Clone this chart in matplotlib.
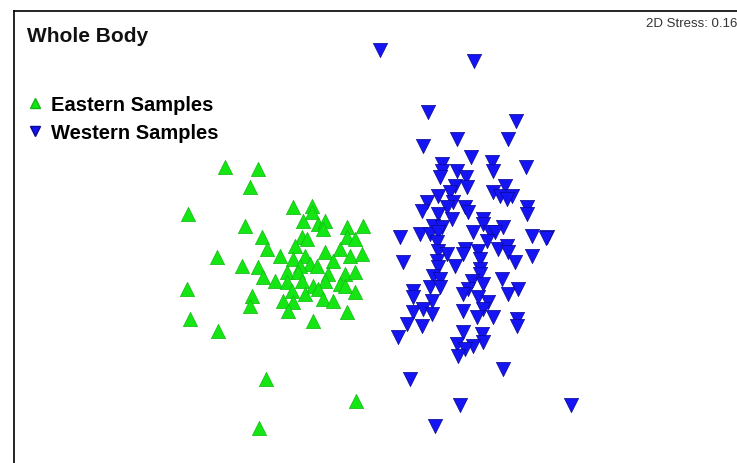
import matplotlib
matplotlib.use('Agg')
import matplotlib.pyplot as plt
from matplotlib.lines import Line2D

# nMDS ordination (screen units, y grows downwards)
east_x = [225, 258, 250, 188, 245, 217, 187, 190, 218, 242, 262, 267, 258, 263,
          252, 250, 275, 280, 293, 312, 312, 303, 318, 325, 323, 347, 363, 302,
          307, 295, 347, 355, 340, 325, 350, 362, 305, 293, 310, 300, 317, 333,
          287, 298, 328, 345, 355, 287, 302, 313, 325, 340, 292, 305, 318, 345,
          355, 283, 293, 323, 333, 288, 313, 347, 266, 356, 259]
east_y = [168, 170, 188, 215, 227, 258, 290, 320, 332, 267, 238, 250, 268, 278,
          297, 307, 282, 257, 208, 207, 213, 222, 225, 222, 230, 228, 227, 238,
          240, 247, 238, 240, 250, 253, 257, 255, 257, 260, 265, 267, 267, 262,
          273, 273, 275, 275, 273, 283, 282, 287, 282, 285, 292, 295, 290, 287,
          293, 302, 303, 300, 302, 312, 322, 313, 380, 402, 429]

west_x = [380, 474, 428, 516, 423, 457, 508, 471, 492, 493, 442, 442, 440, 457,
          466, 526, 455, 467, 450, 505, 493, 500, 512, 507, 438, 427, 453, 447,
          465, 468, 422, 438, 527, 527, 452, 483, 483, 433, 442, 400, 420, 430,
          438, 473, 490, 503, 532, 547, 495, 487, 437, 438, 447, 465, 463, 478,
          480, 498, 507, 508, 532, 403, 437, 438, 455, 515, 480, 480, 433, 440,
          472, 483, 502, 430, 440, 468, 413, 413, 463, 508, 518, 478, 432, 488,
          413, 423, 432, 463, 483, 477, 493, 517, 517, 407, 422, 398, 463, 482,
          483, 457, 473, 465, 458, 503, 410, 460, 571, 435, 546]
west_y = [51, 62, 113, 122, 147, 140, 140, 158, 163, 172, 165, 172, 178, 172,
          178, 168, 187, 188, 193, 187, 193, 197, 197, 200, 197, 203, 203, 208,
          208, 213, 212, 215, 208, 215, 220, 220, 225, 227, 228, 238, 235, 235,
          233, 233, 233, 228, 237, 238, 233, 242, 243, 252, 255, 250, 255, 252,
          260, 250, 247, 253, 257, 263, 262, 268, 267, 263, 270, 275, 277, 280,
          282, 285, 280, 288, 288, 290, 292, 298, 295, 295, 290, 298, 302, 303,
          313, 310, 315, 312, 310, 318, 318, 320, 327, 325, 327, 338, 333, 335,
          343, 345, 347, 350, 357, 370, 380, 406, 406, 427, 239]

title = "Whole Body"
stress_label = "2D Stress: 0.16"
group_names = ["Eastern Samples", "Western Samples"]

east_col = "#14e614"
west_col = "#1414f5"
east_edge = "#12b812"
west_edge = "#0a0a90"

fig = plt.figure(figsize=(7.37, 4.64), dpi=100)
ax = fig.add_axes([14 / 737, 0, 723 / 737, 452 / 464])

ax.scatter(east_x, east_y, marker='^', s=105, c=east_col,
           edgecolors=east_edge, linewidths=0.5, zorder=3)
ax.scatter(west_x, west_y, marker='v', s=105, c=west_col,
           edgecolors=west_edge, linewidths=0.5, zorder=3)

ax.set_xlim(14, 737)
ax.set_ylim(464, 12)
ax.set_xticks([])
ax.set_yticks([])
for side in ['right', 'bottom']:
    ax.spines[side].set_visible(False)
for side in ['left', 'top']:
    ax.spines[side].set_linewidth(1.2)

ax.text(27, 36, title, fontsize=15, family='Liberation Sans',
        weight='bold', va='center', ha='left', color='#111111')
ax.text(737, 24, stress_label, fontsize=9.5, family='Liberation Sans',
        va='center', ha='right', color='#333333')

handles = [
    Line2D([], [], marker='^', ls='none', ms=7.5, mfc=east_col, mec=east_edge),
    Line2D([], [], marker='v', ls='none', ms=7.5, mfc=west_col, mec=west_edge),
]
ax.legend(handles, group_names, loc='upper left',
          bbox_to_anchor=(-0.008, 0.855), frameon=False, handlelength=0.9,
          handletextpad=0.3, labelspacing=0.45,
          prop={'family': 'Liberation Sans', 'weight': 'bold', 'size': 14.5})

fig.savefig('out.png', dpi=100)
plt.close(fig)
